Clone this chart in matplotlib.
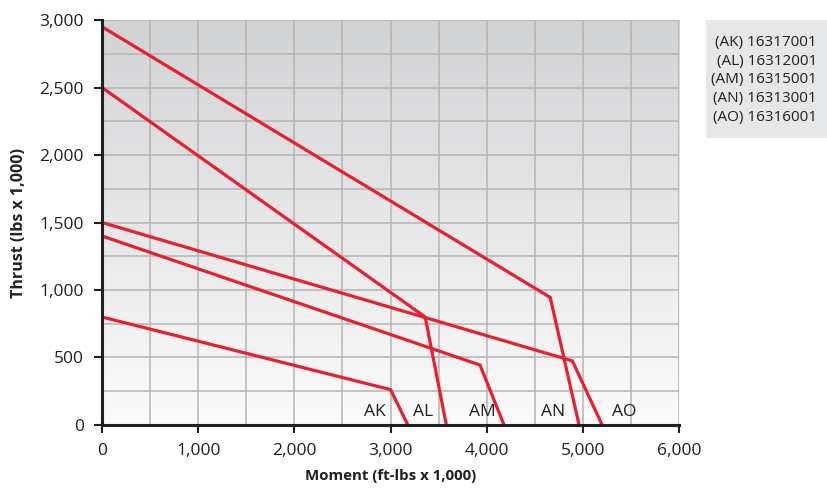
import numpy as np
import matplotlib.pyplot as plt
from matplotlib.patches import Rectangle

plt.rcParams['font.family'] = ['Open Sans', 'DejaVu Sans']

# curves: (moment, thrust) points, x1000
names = ['AK', 'AL', 'AM', 'AN', 'AO']
parts = ['16317001', '16312001', '16315001', '16313001', '16316001']
moment = [
    [0, 3000, 3180],
    [0, 3360, 3580],
    [0, 3930, 4180],
    [0, 4660, 4960],
    [0, 4890, 5200],
]
thrust = [
    [800, 262, 0],
    [2500, 800, 0],
    [1400, 444, 0],
    [2950, 945, 0],
    [1500, 475, 0],
]
label_x = [2840, 3340, 3950, 4690, 5430]
label_y = [95, 95, 95, 95, 95]

fig = plt.figure(figsize=(8.28, 4.98), dpi=100)
ax = fig.add_axes([0.1232, 0.1466, 0.697, 0.8132])

# gray-to-white background
grad = np.linspace(0, 1, 256).reshape(-1, 1)
cmap = plt.matplotlib.colors.LinearSegmentedColormap.from_list('bg', ['#d2d3d5', '#fbfbfb'])
ax.imshow(grad, extent=[0, 6000, 0, 3000], origin='upper', aspect='auto', cmap=cmap, zorder=0)

for v in np.arange(500, 6001, 500):
    ax.axvline(v, color='#b4b4b4', lw=1.1, zorder=1)
for h in np.arange(250, 3001, 250):
    ax.axhline(h, color='#b4b4b4', lw=1.1, zorder=1)

for mx, ty in zip(moment, thrust):
    ax.plot(mx, ty, color='#e81f2f', lw=2.3, zorder=3, solid_joinstyle='miter')

for n, lx, ly in zip(names, label_x, label_y):
    ax.text(lx, ly, n, fontsize=12.5, color='#231f20', ha='center', va='center', zorder=4)

ax.set_xlim(0, 6000)
ax.set_ylim(0, 3000)
ax.set_xticks(np.arange(0, 6001, 1000))
ax.set_yticks(np.arange(0, 3001, 500))
ax.set_xticklabels([f'{v:,}' for v in range(0, 6001, 1000)])
ax.set_yticklabels([f'{v:,}' for v in range(0, 3001, 500)])
ax.tick_params(labelsize=12.5, colors='#231f20', length=6, width=1.5, direction='out', pad=7)
for s in ['top', 'right']:
    ax.spines[s].set_visible(False)
for s in ['left', 'bottom']:
    ax.spines[s].set_color('#231f20')
    ax.spines[s].set_linewidth(2.2)
    ax.spines[s].set_zorder(5)

ax.set_xlabel('Moment (ft-lbs x 1,000)', fontsize=10.8, fontweight='bold', color='#231f20', labelpad=7)
ax.set_ylabel('Thrust (lbs x 1,000)', fontsize=11.5, fontweight='bold', color='#231f20', labelpad=9)

# part number box
fig.patches.append(Rectangle((706 / 828, 1 - 138 / 498), 122 / 828, 118 / 498,
                             transform=fig.transFigure, facecolor='#e6e7e8', edgecolor='none'))
legend_txt = '\n'.join(f'({n}) {p}' for n, p in zip(names, parts))
fig.text(817 / 828, 1 - 80 / 498, legend_txt, ha='right', va='center', fontsize=11,
         color='#231f20', linespacing=1.32)

fig.savefig('out.png', dpi=100)
